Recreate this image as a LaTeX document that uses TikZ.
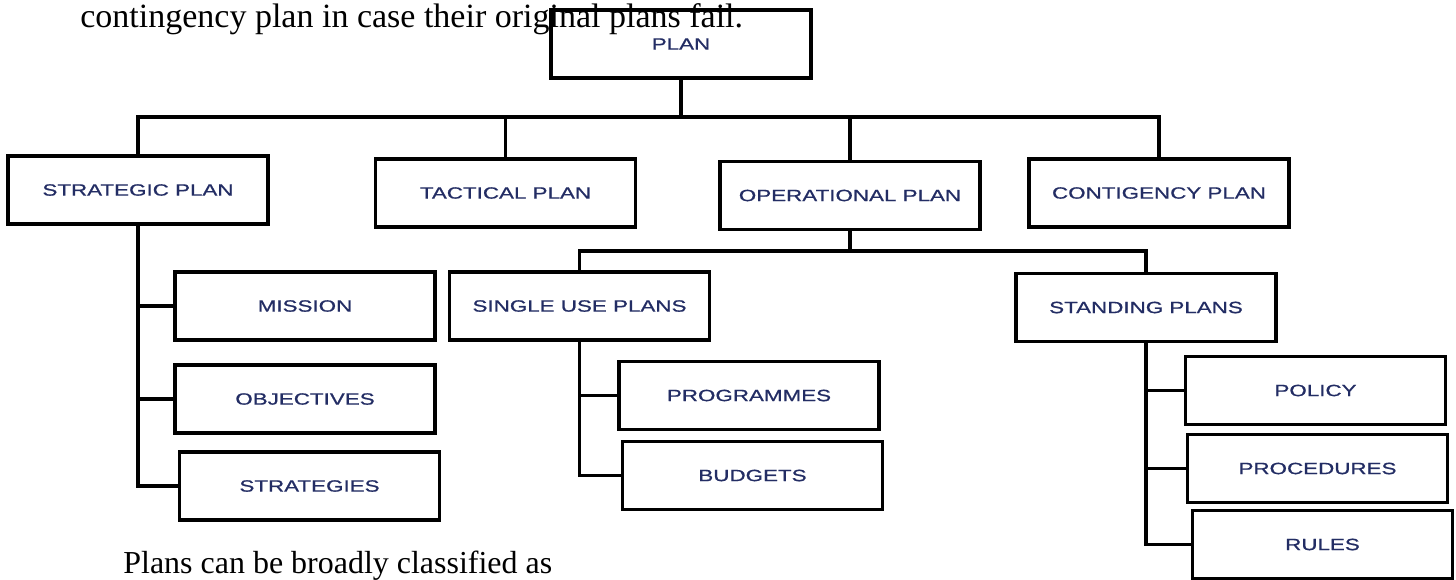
\documentclass[tikz,border=0pt]{standalone}
\usepackage{fontspec}
\setmainfont{Liberation Serif}
\newfontfamily\boxfont[FakeStretch=1.37,FakeBold=0.8]{Liberation Sans}
\definecolor{labelblue}{RGB}{35,45,100}

\begin{document}
\begin{tikzpicture}[x=0.02cm,y=-0.02cm,
		box/.style={draw, line width=1.8pt, minimum width=5.2cm, minimum height=1.36cm, inner sep=0pt, text=labelblue, font=\boxfont\fontsize{9.3pt}{11pt}\selectfont},
		link/.style={line width=1.8pt},
		prose/.style={inner sep=0pt, anchor=base west}]
			\useasboundingbox (0,0) rectangle (1456,579);
			% top level
			\node[box] (plan) at (681,44) {PLAN};
			\node[box] (strat) at (138,190) {STRATEGIC PLAN};
			\node[box] (tact) at (505.5,193) {TACTICAL PLAN};
			\node[box] (oper) at (850,195.5) {OPERATIONAL PLAN};
			\node[box] (cont) at (1159,193) {CONTIGENCY PLAN};
			% under the strategic plan
			\node[box] (mission) at (305,306) {MISSION};
			\node[box] (object) at (305,399) {OBJECTIVES};
			\node[box] (strategies) at (309.5,486) {STRATEGIES};
			% under the operational plan
			\node[box] (single) at (579.5,306) {SINGLE USE PLANS};
			\node[box] (stand) at (1146,307.5) {STANDING PLANS};
			\node[box] (prog) at (749,395.5) {PROGRAMMES};
			\node[box] (budg) at (752.5,475.5) {BUDGETS};
			\node[box] (policy) at (1315.5,390.5) {POLICY};
			\node[box] (proc) at (1317.5,468.5) {PROCEDURES};
			\node[box] (rules) at (1322.5,544.5) {RULES};
			% buses
			\coordinate (bus) at (681,117);
			\coordinate (obus) at (850,251);
			\draw[link] (plan.south) -- (bus);
			\draw[link] (strat.north) |- (bus) -| (cont.north);
			\foreach \n in {tact,oper}
			{\draw[link] (\n.north) -- (\n.north |- bus);}
			\draw[link] (oper.south) -- (obus);
			\draw[link] (single.north) |- (obus) -| (stand.north);
			% branches
			\draw[link] (strat.south) |- (strategies.west);
			\foreach \n in {mission,object}
			{\draw[link] (strat.south |- \n.west) -- (\n.west);}
			\draw[link] (single.south) |- (budg.west);
			\draw[link] (single.south |- prog.west) -- (prog.west);
			\draw[link] (stand.south) |- (rules.west);
			\foreach \n in {policy,proc}
			{\draw[link] (stand.south |- \n.west) -- (\n.west);}
			% surrounding text
			\node[prose, font=\fontsize{19.35pt}{22pt}\selectfont] (note) at (80,27) {contingency plan in case their original plans fail.};
			\node[prose, font=\fontsize{18.2pt}{22pt}\selectfont] (lead) at (123,573) {Plans can be broadly classified as};
\end{tikzpicture}
\end{document}
